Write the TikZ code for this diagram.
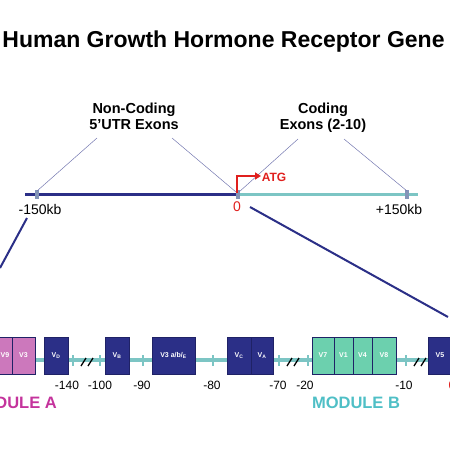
\documentclass[tikz,border=0pt]{standalone}
\usepackage{fontspec}
\setmainfont{Liberation Sans}
\usetikzlibrary{arrows.meta}
\definecolor{navy}{HTML}{2B2F87}
\definecolor{navyd}{HTML}{1F2266}
\definecolor{tealline}{HTML}{7CC5C4}
\definecolor{slatetick}{HTML}{8395B8}
\definecolor{pinkbox}{HTML}{CC78BC}
\definecolor{mintbox}{HTML}{6CD0AE}
\definecolor{modb}{HTML}{4FBFC6}
\definecolor{moda}{HTML}{C4339C}
\definecolor{atgred}{HTML}{E0201E}
\definecolor{guide}{HTML}{7478B0}
\begin{document}
\begin{tikzpicture}[x=1pt,y=-1pt,
  exon/.style={draw=navyd, line width=0.8pt, minimum height=37pt, inner sep=0pt, text=white, font=\fontsize{7}{8}\selectfont\bfseries},
  navybox/.style={exon, fill=navy},
  pinkcell/.style={exon, fill=pinkbox},
  mintcell/.style={exon, fill=mintbox},
  boxtext/.style={text=white, inner sep=0pt, font=\fontsize{7}{8}\selectfont\bfseries},
  trtick/.style={fill=tealline, draw=none, minimum width=2.5pt, minimum height=11pt, inner sep=0pt},
  mtick/.style={fill=slatetick, draw=none, minimum width=4pt, minimum height=9pt, inner sep=0pt},
  heading/.style={font=\fontsize{14.5}{16}\selectfont\bfseries, inner sep=0pt, anchor=base},
  kb/.style={font=\fontsize{14}{16}\selectfont, inner sep=0pt, anchor=base},
  poslbl/.style={font=\fontsize{12}{14}\selectfont, inner sep=0pt, anchor=base},
  guideline/.style={draw=guide, line width=0.5pt},
  zoomline/.style={draw=navy, line width=2pt},
  brk/.style={draw=black, line width=1.3pt}
]
\useasboundingbox (0,0) rectangle (450,450);
\clip (0,0) rectangle (450,450);

% title
\node[font=\fontsize{23}{27}\selectfont\bfseries, inner sep=0pt, anchor=base] (title) at (223.5,47) {Human Growth Hormone Receptor Gene};

% main line
\coordinate (mlA) at (25,194);
\coordinate (mlO) at (237,194);
\coordinate (mlB) at (418,194);
\draw[draw=navy, line width=3pt] (mlA) -- (mlO);
\draw[draw=tealline, line width=3pt] (mlO) -- (mlB);
\node[mtick] (tkA) at (37,194) {};
\node[mtick] (tkO) at (238,194) {};
\node[mtick] (tkB) at (407,194) {};

\node[kb] (lA) at (40,214) {-150kb};
\node[kb, text=atgred] (lO) at (237,211) {0};
\node[kb] (lB) at (399,214) {+150kb};

% headings
\node[heading] (nc1) at (134,113) {Non-Coding};
\node[heading] (nc2) at (134,129) {5’UTR Exons};
\node[heading] (co1) at (323,113) {Coding};
\node[heading] (co2) at (323,129) {Exons (2-10)};

\coordinate (g1a) at (97,138); \coordinate (g1b) at (37,191);
\coordinate (g2a) at (172,138); \coordinate (g2b) at (236,192);
\coordinate (g3a) at (298,139); \coordinate (g3b) at (239,192);
\coordinate (g4a) at (344,139); \coordinate (g4b) at (407,191);
\draw[guideline] (g1a) -- (g1b);
\draw[guideline] (g2a) -- (g2b);
\draw[guideline] (g3a) -- (g3b);
\draw[guideline] (g4a) -- (g4b);

% ATG arrow
\node[font=\fontsize{12}{14}\selectfont\bfseries, text=atgred, inner sep=0pt, anchor=base] (atg) at (274,181) {ATG};
\coordinate (atg0) at (237,193);
\coordinate (atg1) at (261,176);
\draw[draw=atgred, line width=2pt, -{Triangle[length=6pt,width=7pt]}] (atg0) |- (atg1);

% zoom lines
\coordinate (z1a) at (27,218); \coordinate (z1b) at (0,268);
\coordinate (z2a) at (250,207); \coordinate (z2b) at (448,317);
\draw[zoomline] (z1a) -- (z1b);
\draw[zoomline] (z2a) -- (z2b);

% bottom track
\coordinate (trA) at (-5,360);
\coordinate (trB) at (430,360);
\draw[draw=tealline, line width=4pt] (trA) -- (trB);
\foreach \x/\n in {73/a,100/b,143/c,213/d,279/e,308/f,406/g}
  \node[trtick] (tt\n) at (\x,360) {};

% break marks
\foreach \x/\n in {87/a,293/b,420/c}{
  \draw[brk] (\x-6,366) -- (\x-1,358);
  \draw[brk] (\x+1,366) -- (\x+6,358);
}

% boxes
\node[pinkcell, minimum width=23pt] (v9) at (0.5,355.5) {};
\node[boxtext] (v9t) at (5,355.5) {V9};
\node[pinkcell, minimum width=23pt] (v3) at (23.5,355.5) {V3};
\node[navybox, minimum width=24pt] (vd) at (56,355.5) {V\textsubscript{D}};
\node[navybox, minimum width=24pt] (vb) at (117,355.5) {V\textsubscript{B}};
\node[navybox, minimum width=43pt] (v3abe) at (173.5,355.5) {V3 a/b/\textsubscript{E}};
\node[navybox, minimum width=24pt] (vc) at (239,355.5) {V\textsubscript{C}};
\node[navybox, minimum width=22pt] (va) at (262,355.5) {V\textsubscript{A}};
\node[mintcell, minimum width=22pt] (v7) at (323,355.5) {V7};
\node[mintcell, minimum width=19pt] (v1) at (343.5,355.5) {V1};
\node[mintcell, minimum width=19pt] (v4) at (362.5,355.5) {V4};
\node[mintcell, minimum width=24pt] (v8) at (384,355.5) {V8};
\node[navybox, minimum width=24pt] (v5) at (440,355.5) {V5};

% position labels
\node[poslbl] (p140) at (67,389) {-140};
\node[poslbl] (p100) at (100,389) {-100};
\node[poslbl] (p90) at (142,389) {-90};
\node[poslbl] (p80) at (212,389) {-80};
\node[poslbl] (p70) at (278,389) {-70};
\node[poslbl] (p20) at (305,389) {-20};
\node[poslbl] (p10) at (404,389) {-10};
\node[poslbl, text=atgred] (p0) at (452,389) {0};

% modules
\node[font=\fontsize{16.5}{18}\selectfont\bfseries, text=modb, inner sep=0pt, anchor=base] (modB) at (356,408) {MODULE B};
\node[font=\fontsize{16.5}{18}\selectfont\bfseries, text=moda, inner sep=0pt, anchor=base east] (modA) at (57,408) {MODULE A};
\end{tikzpicture}
\end{document}
